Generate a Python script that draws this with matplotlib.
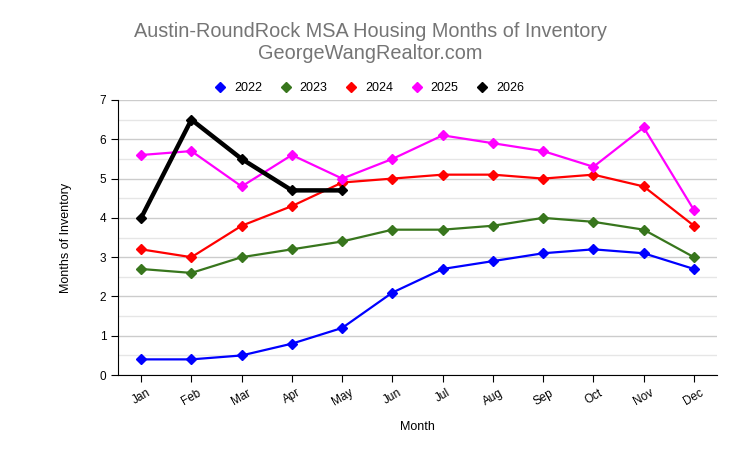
import matplotlib
matplotlib.use('Agg')
import matplotlib.pyplot as plt
from matplotlib.ticker import MultipleLocator

plt.rcParams['font.family'] = ['Liberation Sans', 'DejaVu Sans']

months = ['Jan', 'Feb', 'Mar', 'Apr', 'May', 'Jun', 'Jul', 'Aug', 'Sep', 'Oct', 'Nov', 'Dec']
y2022 = [0.4, 0.4, 0.5, 0.8, 1.2, 2.1, 2.7, 2.9, 3.1, 3.2, 3.1, 2.7]
y2023 = [2.7, 2.6, 3.0, 3.2, 3.4, 3.7, 3.7, 3.8, 4.0, 3.9, 3.7, 3.0]
y2024 = [3.2, 3.0, 3.8, 4.3, 4.9, 5.0, 5.1, 5.1, 5.0, 5.1, 4.8, 3.8]
y2025 = [5.6, 5.7, 4.8, 5.6, 5.0, 5.5, 6.1, 5.9, 5.7, 5.3, 6.3, 4.2]
y2026 = [4.0, 6.5, 5.5, 4.7, 4.7]

series = [('2022', y2022, '#0000ff', 1.6),
          ('2023', y2023, '#38761d', 1.6),
          ('2024', y2024, '#ff0000', 1.6),
          ('2025', y2025, '#ff00ff', 1.6),
          ('2026', y2026, '#000000', 3.2)]

fig = plt.figure(figsize=(7.4, 4.58), dpi=100)
ax = fig.add_axes([0.1595, 0.181, 0.8095, 0.6007])

x = list(range(len(months)))
for name, vals, col, lw in series:
    ax.plot(x[:len(vals)], vals, color=col, lw=lw, marker='D', markersize=5,
            label=name, zorder=3)

ax.set_xlim(-0.46, 11.46)
ax.set_ylim(0, 7)
ax.yaxis.set_major_locator(MultipleLocator(1))
ax.yaxis.set_minor_locator(MultipleLocator(0.5))
ax.grid(axis='y', which='major', color='#cccccc', lw=1)
ax.grid(axis='y', which='minor', color='#e6e6e6', lw=1)
ax.set_axisbelow(True)
ax.set_xticks(x)
ax.set_xticklabels(months, rotation=30, fontsize=8.5)
ax.tick_params(axis='y', labelsize=8.5, which='major', length=5)
ax.tick_params(axis='y', which='minor', length=0)
ax.tick_params(axis='x', length=5)
for s in ['top', 'right']:
    ax.spines[s].set_visible(False)
ax.set_xlabel('Month', fontsize=9, labelpad=9)
ax.set_ylabel('Months of Inventory', fontsize=9, labelpad=20)

fig.text(0.5, 0.908, 'Austin-RoundRock MSA Housing Months of Inventory\nGeorgeWangRealtor.com',
         ha='center', va='center', fontsize=14.3, color='#757575', linespacing=1.2)

leg = fig.legend(loc='center', bbox_to_anchor=(0.503, 0.807), ncol=5, frameon=False,
                 fontsize=9, handlelength=0, handletextpad=1.1, columnspacing=1.9)
for h in leg.legend_handles:
    h.set_linestyle('none')

fig.savefig('out.png', dpi=100)
